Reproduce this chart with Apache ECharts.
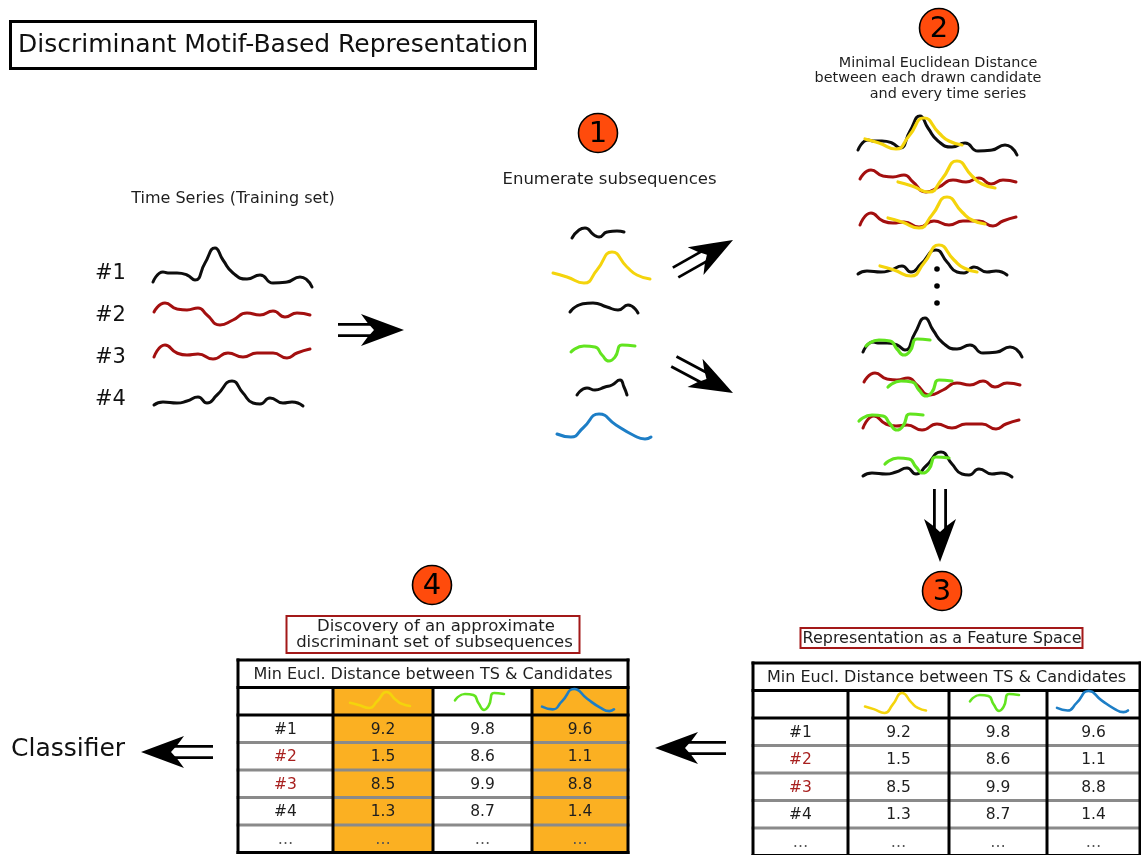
<!DOCTYPE html>
<html><head><meta charset="utf-8">
<script src="https://cdn.jsdelivr.net/npm/echarts@6/dist/echarts.min.js"></script>
<style>html,body{margin:0;padding:0;background:#fff}#c{width:1141px;height:855px}</style>
</head><body><div id="c"></div>
<script>
// ================= DATA =================
const tsLabels = ['#1', '#2', '#3', '#4'];
const tsClass = [0, 1, 1, 0];              // 0 = black class, 1 = red class
// time series shapes: time index / amplitude
const ts1T = [0, 10, 15, 24, 34, 42, 52, 62, 70, 80, 94, 107, 120, 134, 147, 154, 159];
const ts1V = [6, 16, 15, 15, 13, 8, 25, 40, 28, 15, 9, 13, 5, 6, 11, 8, 1];
const ts2T = [0, 11, 23, 33, 44, 53, 66, 79, 93, 106, 119, 131, 143, 156];
const ts2V = [14, 23, 17, 16, 18, 11, 1, 6, 13, 11, 15, 9, 13, 11];
const ts3T = [0, 11, 23, 33, 44, 59, 74, 89, 103, 119, 133, 143, 156];
const ts3V = [3, 15, 7, 5, 6, 1, 7, 3, 7, 7, 2, 7, 11];
const ts4T = [0, 9, 23, 33, 44, 53, 63, 78, 89, 99, 106, 116, 129, 138, 149];
const ts4V = [1, 4, 3, 5, 9, 3, 11, 25, 13, 3, 2, 8, 3, 4, 0];
// enumerated subsequences (candidates)
const c1T = [0, 7, 13, 22, 27, 35, 45, 52], c1V = [1, 9, 11, 4, 2, 7, 8, 7];
const yelT = [0, 14, 31, 44, 59, 74, 84, 97], yelV = [10, 6, 0, 13, 31, 16, 8, 4];
const c3T = [0, 12, 23, 37, 48, 58, 68], c3V = [2, 10, 11, 7, 4, 9, 1];
const grnT = [0, 13, 24, 31, 38, 44, 51, 64], grnV = [10, 16, 15, 7, 1, 5, 17, 16];
const c5T = [0, 10, 18, 28, 35, 43, 47, 50], c5V = [1, 8, 6, 9, 11, 16, 9, 1];
const bluT = [0, 14, 26, 42, 59, 76, 88, 94], bluV = [6, 3, 12, 26, 15, 5, 1, 3];
// best-match location of the candidate on each series (time shift / amplitude shift)
const yelMatchT = [7, 38, 28, 22], yelMatchV = [7, 1, 0, -1];
const grnMatchT = [3, 24, -4, 22], grnMatchV = [2, -1, 0, 3];
// table
const tableTitle = 'Min Eucl. Distance between TS & Candidates';
const rowLabels = ['#1', '#2', '#3', '#4', '…'];
const distYellow = [9.2, 1.5, 8.5, 1.3];
const distGreen = [9.8, 8.6, 9.9, 8.7];
const distBlue = [9.6, 1.1, 8.8, 1.4];
const selectedCols = [1, 3];

// ================= LAYOUT / STYLE =================
const FONT = '"DejaVu Sans", "Liberation Sans", sans-serif';
const TXT = '#1e1e1e';
const COL_BLACK = '#0d0d0d', COL_RED = '#a30f0f', COL_YEL = '#f4d40c', COL_GRN = '#62e41f', COL_BLU = '#1d7ec6';
const COL_REDTXT = '#a8201f', COL_ORANGE = '#fbb022', COL_CIRCLE = '#ff4b0c', COL_BOX = '#a31919';
const leftTsOrigin = [[153, 288], [154, 326], [154, 360], [154, 406]];
const candOrigin = [[572, 239], [553, 283], [570, 314], [571, 362], [577, 396], [557, 440]];
const step2Origin = [[858, 156], [860, 193], [860, 228], [858, 275], [863, 358], [864, 396], [863, 431], [863, 477]];
const ROWH = 27.5;

const tsShapes = [[ts1T, ts1V], [ts2T, ts2V], [ts3T, ts3V], [ts4T, ts4V]];
const candShapes = [[c1T, c1V], [yelT, yelV], [c3T, c3V], [grnT, grnV], [c5T, c5V], [bluT, bluV]];
const candColors = [COL_BLACK, COL_YEL, COL_BLACK, COL_GRN, COL_BLACK, COL_BLU];
const tsColor = i => tsClass[i] === 1 ? COL_RED : COL_BLACK;

const grids = [], xAxes = [], yAxes = [], series = [];
function addGrid(l, t, w, h, xmin, xmax, ymin, ymax, inv) {
  const i = grids.length;
  grids.push({left: l, top: t, width: w, height: h, show: false, containLabel: false, outerBoundsMode: 'none'});
  xAxes.push({type: 'value', gridIndex: i, min: xmin, max: xmax, show: false});
  yAxes.push({type: 'value', gridIndex: i, min: ymin, max: ymax, show: false, inverse: !!inv});
  return i;
}
function curve(gi, T, V, color, dt, dv, w) {
  series.push({
    type: 'line', xAxisIndex: gi, yAxisIndex: gi,
    data: T.map((t, k) => [t + (dt || 0), V[k] + (dv || 0)]),
    smooth: 0.55, symbol: 'none', clip: false, silent: true, animation: false,
    lineStyle: {color: color, width: w || 3, cap: 'round', join: 'round'}
  });
}
// 1 unit = 1 px box anchored at (start, baseline)
function unitBox(o) { return addGrid(o[0] - 20, o[1] - 60, 220, 70, -20, 200, -10, 60); }
function fitBox(box, T, V) {
  return addGrid(box[0], box[1], box[2] - box[0], box[3] - box[1], 0, Math.max(...T), 0, Math.max(...V));
}

// training set
tsShapes.forEach((s, i) => curve(unitBox(leftTsOrigin[i]), s[0], s[1], tsColor(i)));
// enumerated candidates
candShapes.forEach((s, i) => curve(unitBox(candOrigin[i]), s[0], s[1], candColors[i]));
// step 2: each series with best matching candidate
for (let i = 0; i < 4; i++) {
  const g = unitBox(step2Origin[i]);
  curve(g, tsShapes[i][0], tsShapes[i][1], tsColor(i));
  curve(g, yelT, yelV, COL_YEL, yelMatchT[i], yelMatchV[i], 3.2);
}
for (let i = 0; i < 4; i++) {
  const g = unitBox(step2Origin[4 + i]);
  curve(g, tsShapes[i][0], tsShapes[i][1], tsColor(i));
  curve(g, grnT, grnV, COL_GRN, grnMatchT[i], grnMatchV[i], 3.2);
}

// tables
function addTable(left, top, colEdges, highlight, iconBoxes) {
  const width = colEdges[colEdges.length - 1];
  const gi = addGrid(left, top, width, 7 * ROWH, 0, width, 0, 7, true);
  const cells = [];
  cells.push({x1: 0, x2: width, y1: 0, y2: 1, text: tableTitle, fill: '#fff', color: TXT, size: 16});
  for (let c = 0; c < 4; c++) {
    cells.push({x1: colEdges[c], x2: colEdges[c + 1], y1: 1, y2: 2, text: '', fill: highlight.includes(c) ? COL_ORANGE : '#fff'});
  }
  const cols = [distYellow, distGreen, distBlue];
  for (let r = 0; r < rowLabels.length; r++) {
    for (let c = 0; c < 4; c++) {
      let text, color = TXT;
      if (c === 0) { text = rowLabels[r]; if (r < 4 && tsClass[r] === 1) color = COL_REDTXT; }
      else text = r < 4 ? cols[c - 1][r].toFixed(1) : '…';
      if (r === 4) color = '#555';
      cells.push({x1: colEdges[c], x2: colEdges[c + 1], y1: 2 + r, y2: 3 + r, text, color, size: 15.5,
        fill: (c > 0 && highlight.includes(c)) ? COL_ORANGE : '#fff'});
    }
  }
  series.push({
    type: 'custom', coordinateSystem: 'cartesian2d', xAxisIndex: gi, yAxisIndex: gi, silent: true, animation: false, clip: false,
    data: cells.map(c => [c.x1, c.y1, c.x2, c.y2]),
    renderItem: (p, api) => {
      const c = cells[p.dataIndex];
      const a = api.coord([c.x1, c.y1]), b = api.coord([c.x2, c.y2]);
      const ch = [{type: 'rect', shape: {x: a[0], y: a[1], width: b[0] - a[0], height: b[1] - a[1]}, style: {fill: c.fill}}];
      if (c.text) ch.push({type: 'text', x: (a[0] + b[0]) / 2, y: (a[1] + b[1]) / 2 + 1,
        style: {text: c.text, fill: c.color, font: c.size + 'px ' + FONT, align: 'center', verticalAlign: 'middle', textAlign: 'center', textVerticalAlign: 'middle'}});
      return {type: 'group', children: ch};
    }
  });
  const lines = [];
  for (let r = 3; r <= 6; r++) lines.push({x1: 0, y1: r, x2: width, y2: r, stroke: '#8a8a8a'});
  [0, 1, 2, 7].forEach(r => lines.push({x1: 0, y1: r, x2: width, y2: r, stroke: '#000'}));
  lines.push({x1: 0, y1: 0, x2: 0, y2: 7, stroke: '#000'});
  lines.push({x1: width, y1: 0, x2: width, y2: 7, stroke: '#000'});
  for (let c = 1; c < 4; c++) lines.push({x1: colEdges[c], y1: 1, x2: colEdges[c], y2: 7, stroke: '#000'});
  series.push({
    type: 'custom', coordinateSystem: 'cartesian2d', xAxisIndex: gi, yAxisIndex: gi, silent: true, animation: false, clip: false,
    data: lines.map(l => [l.x1, l.y1, l.x2, l.y2]),
    renderItem: (p, api) => {
      const l = lines[p.dataIndex];
      const a = api.coord([l.x1, l.y1]), b = api.coord([l.x2, l.y2]);
      return {type: 'line', shape: {x1: a[0], y1: a[1], x2: b[0], y2: b[1]}, style: {stroke: l.stroke, lineWidth: 3, lineCap: 'square'}};
    }
  });
  // header icons
  const iconShapes = [[yelT, yelV, COL_YEL], [grnT, grnV, COL_GRN], [bluT, bluV, COL_BLU]];
  iconShapes.forEach((s, k) => curve(fitBox(iconBoxes[k], s[0], s[1]), s[0], s[1], s[2], 0, 0, 2.6));
}
addTable(238, 660, [0, 95, 195, 294, 390], selectedCols,
  [[350, 692, 410, 708], [455, 693, 504, 711], [542, 689, 614, 712]]);
addTable(753, 663, [0, 95, 196, 294, 387], [],
  [[865, 693, 926, 713], [970, 694, 1019, 712], [1057, 691, 1128, 713]]);

// ================= GRAPHIC ANNOTATIONS =================
const gfx = [];
function txt(s, x, y, size, opt) {
  opt = opt || {};
  const al = opt.align || 'center';
  gfx.push({type: 'text', x, y, silent: true, z: 10,
    style: {text: s, fill: opt.color || TXT, font: size + 'px ' + FONT, align: al, verticalAlign: 'middle', textAlign: al, textVerticalAlign: 'middle'}});
}
function badge(n, cx, cy) {
  gfx.push({type: 'circle', z: 10, shape: {cx, cy, r: 19.5}, style: {fill: COL_CIRCLE, stroke: '#000', lineWidth: 1.6}});
  txt(String(n), cx, cy + 1, 29, {color: '#000'});
}
function arrow(tx, ty, angDeg, len) {
  const a = angDeg * Math.PI / 180, dx = Math.cos(a), dy = Math.sin(a), nx = -dy, ny = dx;
  const Hh = 43, Ww = 16, notch = 30, gap = 5.6;
  const P = (along, side) => [tx - dx * along + nx * side, ty - dy * along + ny * side];
  [gap, -gap].forEach(s => {
    const p1 = P(len, s), p2 = P(notch + 2, s);
    gfx.push({type: 'line', z: 10, shape: {x1: p1[0], y1: p1[1], x2: p2[0], y2: p2[1]}, style: {stroke: '#000', lineWidth: 2.8}});
  });
  gfx.push({type: 'polygon', z: 11, shape: {points: [P(0, 0), P(Hh * 0.5, Ww * 0.5), P(Hh, Ww), P(Hh * 0.85, Ww * 0.45), P(notch, 0), P(Hh * 0.85, -Ww * 0.45), P(Hh, -Ww), P(Hh * 0.5, -Ww * 0.5)]},
    style: {fill: '#000'}});
}
// title
gfx.push({type: 'rect', z: 10, shape: {x: 10.5, y: 21.5, width: 525, height: 47}, style: {fill: 'none', stroke: '#000', lineWidth: 3}});
txt('Discriminant Motif-Based Representation', 273, 45.5, 25, {color: '#111'});
// training set
txt('Time Series (Training set)', 233, 199, 16);
tsLabels.forEach((l, i) => txt(l, 95, [274, 316, 358, 400][i], 21, {align: 'left', color: '#111'}));
// step 1
badge(1, 598, 133);
txt('Enumerate subsequences', 609.5, 180, 16.5);
// step 2
badge(2, 939, 28);
txt('Minimal Euclidean Distance', 938, 63, 14.4);
txt('between each drawn candidate', 928, 78.5, 14.4);
txt('and every time series', 948, 94, 14.4);
[269, 286, 303].forEach(y => gfx.push({type: 'circle', z: 10, shape: {cx: 937, cy: y, r: 2.8}, style: {fill: '#000'}}));
// step 3
badge(3, 942, 591);
gfx.push({type: 'rect', z: 10, shape: {x: 800.5, y: 628, width: 282, height: 20}, style: {fill: 'none', stroke: COL_BOX, lineWidth: 2}});
txt('Representation as a Feature Space', 942, 638.5, 16);
// step 4
badge(4, 432, 585);
gfx.push({type: 'rect', z: 10, shape: {x: 286.5, y: 616, width: 293, height: 37}, style: {fill: 'none', stroke: COL_BOX, lineWidth: 2}});
txt('Discovery of an approximate', 436, 627, 16.5);
txt('discriminant set of subsequences', 434.5, 643, 16.5);
// classifier
txt('Classifier', 11, 749, 25, {align: 'left', color: '#111'});
// arrows
arrow(404, 330, 0, 66);
arrow(733, 240, -29.5, 66);
arrow(733, 393, 28, 67);
arrow(940, 562, 90, 73);
arrow(655, 748, 180, 71);
arrow(141, 752, 180, 72);

const chart = echarts.init(document.getElementById('c'), null, {renderer: 'canvas'});
chart.setOption({
  backgroundColor: '#fff', animation: false,
  grid: grids, xAxis: xAxes, yAxis: yAxes, series: series, graphic: {elements: gfx}
});
</script></body></html>
